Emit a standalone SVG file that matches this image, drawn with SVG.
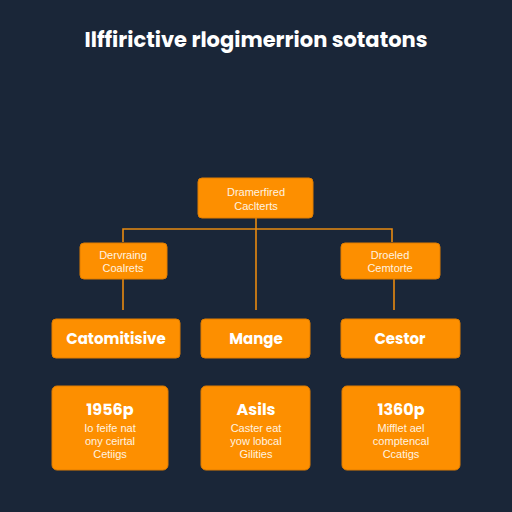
<svg xmlns="http://www.w3.org/2000/svg" width="512" height="512" viewBox="0 0 512 512">
<style>
.box{fill:#fd8f00;stroke:#e07d00;stroke-width:1}
.t{font-family:"Poppins","Liberation Sans",Arial,sans-serif;fill:#fff;text-anchor:middle}
.title{font-size:21px;font-weight:bold}
.small{font-family:"Liberation Sans",Arial,sans-serif;font-size:11px;fill:#fff3e0}
.mid{font-size:15px;font-weight:bold}
.num{font-size:16px;font-weight:bold}
.conn{stroke:#e88a10;stroke-width:1.6;fill:none}
</style>
<rect width="512" height="512" fill="#1a2638"/>
<text class="t title" x="256" y="47">Ilffirictive rlogimerrion sotatons</text>
<g id="connectors">
<path class="conn" d="M256 218 V310"/>
<path class="conn" d="M123 242 V229 H392 V242"/>
<path class="conn" d="M123 279 V310"/>
<path class="conn" d="M394 279 V310"/>
</g>
<g id="top">
<rect class="box" x="198" y="178" width="115" height="40" rx="4"/>
<text class="t small" x="256" y="196">Dramerfired</text>
<text class="t small" x="256" y="210">Caclterts</text>
</g>
<g id="midleft">
<rect class="box" x="80" y="243" width="87" height="36" rx="4"/>
<text class="t small" x="123" y="259">Dervraing</text>
<text class="t small" x="123" y="272">Coalrets</text>
</g>
<g id="midright">
<rect class="box" x="341" y="243" width="99" height="36" rx="4"/>
<text class="t small" x="390" y="259">Droeled</text>
<text class="t small" x="390" y="272">Cemtorte</text>
</g>
<g id="cat">
<rect class="box" x="52" y="319" width="128" height="39" rx="4"/>
<text class="t mid" x="116" y="344">Catomitisive</text>
</g>
<g id="mange">
<rect class="box" x="201" y="319" width="109" height="39" rx="4"/>
<text class="t mid" x="256" y="344">Mange</text>
</g>
<g id="cestor">
<rect class="box" x="341" y="319" width="119" height="39" rx="4"/>
<text class="t mid" x="400" y="344">Cestor</text>
</g>
<g id="card1">
<rect class="box" x="52" y="386" width="116" height="84" rx="5"/>
<text class="t num" x="110" y="415">1956p</text>
<text class="t small" x="110" y="432">Io feife nat</text>
<text class="t small" x="110" y="445">ony ceirtal</text>
<text class="t small" x="110" y="458">Cetiigs</text>
</g>
<g id="card2">
<rect class="box" x="201" y="386" width="109" height="84" rx="5"/>
<text class="t num" x="256" y="415">Asils</text>
<text class="t small" x="256" y="432">Caster eat</text>
<text class="t small" x="256" y="445">yow lobcal</text>
<text class="t small" x="256" y="458">Gilities</text>
</g>
<g id="card3">
<rect class="box" x="342" y="386" width="118" height="84" rx="5"/>
<text class="t num" x="401" y="415">1360p</text>
<text class="t small" x="401" y="432">Mifflet ael</text>
<text class="t small" x="401" y="445">comptencal</text>
<text class="t small" x="401" y="458">Ccatigs</text>
</g>
</svg>
